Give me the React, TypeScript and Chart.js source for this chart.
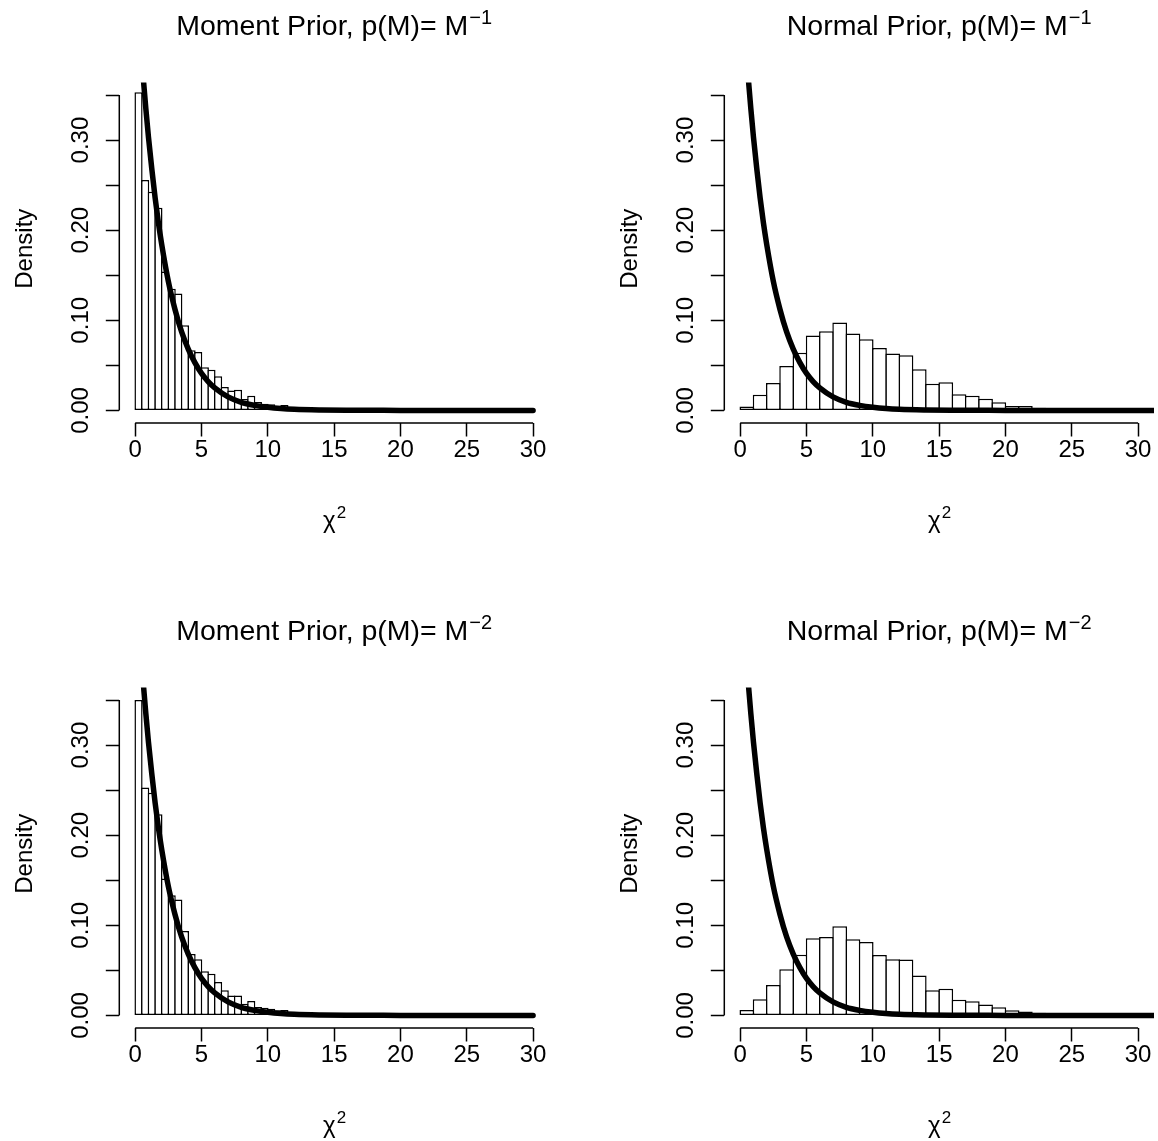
import React, { useEffect, useRef } from "react";
import { Chart, registerables } from "chart.js";

Chart.register(...registerables);

const FONT = "'Liberation Sans', Arial, Helvetica, sans-serif";

// ---- tick definitions ----
const xTickValues = [0, 5, 10, 15, 20, 25, 30];
const xTickLabels = ["0", "5", "10", "15", "20", "25", "30"];
const yTickValues = [0, 0.05, 0.1, 0.15, 0.2, 0.25, 0.3, 0.35];
const yTickLabels = ["0.00", "", "0.10", "", "0.20", "", "0.30", ""];

// ---- histogram data (densities per bin, bins start at 0) ----
const momentBinWidth = 0.5;
const normalBinWidth = 1;

const momentM1Density = [
  0.353, 0.2556, 0.2426, 0.2248, 0.154, 0.135, 0.1296, 0.0944, 0.0667, 0.0648,
  0.048, 0.045, 0.0378, 0.0259, 0.0222, 0.023, 0.0125, 0.0163, 0.0093, 0.0074,
  0.0067, 0.0045, 0.006, 0.0022, 0.0012, 0.0008,
];

const momentM2Density = [
  0.35, 0.253, 0.247, 0.2233, 0.152, 0.1333, 0.1285, 0.0937, 0.068, 0.0624,
  0.0489, 0.0463, 0.037, 0.0278, 0.0222, 0.0222, 0.013, 0.016, 0.0093, 0.0085,
  0.0075, 0.0056, 0.006, 0.002, 0.0012, 0.0008,
];

const normalM1Density = [
  0.0044, 0.0174, 0.0304, 0.0493, 0.0641, 0.083, 0.0878, 0.0974, 0.0852, 0.0789,
  0.0693, 0.063, 0.0611, 0.0456, 0.0296, 0.0311, 0.0178, 0.0163, 0.013, 0.0089,
  0.0048, 0.0048, 0.003, 0.0025, 0.002, 0.0015, 0.001, 0.0008, 0.0005, 0.0003,
];

const normalM2Density = [
  0.0059, 0.0178, 0.0337, 0.0511, 0.0674, 0.0856, 0.087, 0.0989, 0.0844, 0.0815,
  0.067, 0.0622, 0.0619, 0.0444, 0.0278, 0.0296, 0.0174, 0.0156, 0.0122, 0.0089,
  0.0056, 0.0044, 0.003, 0.0025, 0.002, 0.0015, 0.001, 0.0008, 0.0005, 0.0003,
];

// ---- reference density curve ----
const curveX = [
  0.45, 0.6, 0.8, 1, 1.25, 1.5, 1.75, 2, 2.5, 3, 3.5, 4, 4.5, 5, 5.5, 6, 7, 8, 9,
  10, 11, 12, 14, 16, 18, 20, 25, 30,
];
const curveY = [
  0.399, 0.37, 0.335, 0.303, 0.268, 0.236, 0.208, 0.184, 0.143, 0.112, 0.087,
  0.068, 0.053, 0.041, 0.032, 0.025, 0.015, 0.009, 0.0056, 0.0034, 0.002, 0.0012,
  0.0005, 0.0002, 0.0001, 0, 0, 0,
];
const curveTailX = [31.2];
const curveTailY = [0];

type PanelCfg = {
  title: string;
  sup: string;
  binWidth: number;
  density: number[];
  extendCurve: boolean;
  barPct: number;
  left: number;
  top: number;
};

const panels: PanelCfg[] = [
  { title: "Moment Prior, p(M)= M", sup: "\u22121", binWidth: momentBinWidth, density: momentM1Density, extendCurve: false, barPct: 1.23, left: 0, top: 0 },
  { title: "Normal Prior, p(M)= M", sup: "\u22121", binWidth: normalBinWidth, density: normalM1Density, extendCurve: true, barPct: 1.11, left: 605, top: 0 },
  { title: "Moment Prior, p(M)= M", sup: "\u22122", binWidth: momentBinWidth, density: momentM2Density, extendCurve: false, barPct: 1.23, left: 0, top: 605 },
  { title: "Normal Prior, p(M)= M", sup: "\u22122", binWidth: normalBinWidth, density: normalM2Density, extendCurve: true, barPct: 1.11, left: 605, top: 605 },
];

function makeTextPlugin(cfg: PanelCfg) {
  return {
    id: "rstyle",
    afterDraw(chart: any) {
      const { ctx, chartArea: ca, scales } = chart;
      const xs = scales.x;
      const ys = scales.y;
      ctx.save();
      ctx.strokeStyle = "#000";
      ctx.fillStyle = "#000";
      ctx.lineWidth = 1.5;
      // axis lines spanning the tick range (R style)
      ctx.beginPath();
      ctx.moveTo(xs.getPixelForValue(xTickValues[0]), ca.bottom);
      ctx.lineTo(xs.getPixelForValue(xTickValues[xTickValues.length - 1]), ca.bottom);
      ctx.moveTo(ca.left, ys.getPixelForValue(yTickValues[0]));
      ctx.lineTo(ca.left, ys.getPixelForValue(yTickValues[yTickValues.length - 1]));
      ctx.stroke();

      const cx = (ca.left + ca.right) / 2;
      const cy = (ca.top + ca.bottom) / 2;
      ctx.textAlign = "left";
      ctx.textBaseline = "alphabetic";

      // title with superscript
      ctx.font = `28.5px ${FONT}`;
      const w1 = ctx.measureText(cfg.title).width;
      ctx.font = `20px ${FONT}`;
      const w2 = ctx.measureText(cfg.sup).width;
      const x0 = cx - (w1 + w2 + 1) / 2;
      ctx.font = `28.5px ${FONT}`;
      ctx.fillText(cfg.title, x0, 35);
      ctx.font = `20px ${FONT}`;
      ctx.fillText(cfg.sup, x0 + w1 + 1, 24);

      // x axis title chi^2
      ctx.font = `24px ${FONT}`;
      const wc = ctx.measureText("\u03c7").width;
      ctx.font = `17px ${FONT}`;
      const w2b = ctx.measureText("2").width;
      const xc = cx - (wc + w2b) / 2;
      ctx.font = `24px ${FONT}`;
      ctx.fillText("\u03c7", xc, 528);
      ctx.font = `17px ${FONT}`;
      ctx.fillText("2", xc + wc + 1, 518);

      // y axis title
      ctx.font = `24px ${FONT}`;
      ctx.translate(32, cy - 4);
      ctx.rotate(-Math.PI / 2);
      ctx.textAlign = "center";
      ctx.fillText("Density", 0, 0);
      ctx.restore();
    },
  };
}

function Panel({ cfg }: { cfg: PanelCfg }) {
  const ref = useRef<HTMLCanvasElement>(null);
  useEffect(() => {
    const bins = cfg.density.map((d, i) => ({ x: (i + 0.5) * cfg.binWidth, y: d }));
    const cx = cfg.extendCurve ? curveX.concat(curveTailX) : curveX;
    const cyv = cfg.extendCurve ? curveY.concat(curveTailY) : curveY;
    const curve = cx.map((x, i) => ({ x, y: cyv[i] }));
    const chart = new Chart(ref.current as HTMLCanvasElement, {
      type: "bar",
      data: {
        datasets: [
          {
            type: "line",
            data: curve,
            borderColor: "#000",
            borderWidth: 5.5,
            pointRadius: 0,
            cubicInterpolationMode: "monotone",
            borderCapStyle: "round",
            fill: false,
            order: 0,
            clip: 0,
          } as any,
          {
            type: "bar",
            data: bins,
            backgroundColor: "#fff",
            borderColor: "#000",
            borderWidth: 1.5,
            borderSkipped: false,
            categoryPercentage: 1,
            barPercentage: cfg.barPct,
            order: 1,
          } as any,
        ],
      },
      options: {
        animation: false,
        responsive: false,
        maintainAspectRatio: false,
        events: [],
        layout: { padding: { top: 82.4, right: 56, left: 0, bottom: 0 } },
        plugins: {
          legend: { display: false },
          title: { display: false },
          tooltip: { enabled: false },
        },
        scales: {
          x: {
            type: "linear",
            min: -1.2,
            max: 31.2,
            offset: false,
            border: { display: false },
            grid: {
              display: true,
              offset: false,
              drawOnChartArea: false,
              drawTicks: true,
              tickLength: 13.5,
              tickWidth: 1.5,
              tickColor: "#000",
            },
            ticks: {
              autoSkip: false,
              maxRotation: 0,
              minRotation: 0,
              padding: -1,
              color: "#000",
              font: { family: FONT, size: 24 },
              callback: (v: any) => {
                const i = xTickValues.indexOf(Number(v));
                return i >= 0 ? xTickLabels[i] : "";
              },
            },
            afterBuildTicks: (s: any) => {
              s.ticks = xTickValues.map((v) => ({ value: v }));
            },
            afterFit: (s: any) => {
              s.height = 182;
            },
          },
          y: {
            type: "linear",
            min: -0.014,
            max: 0.364,
            border: { display: false },
            grid: {
              display: true,
              offset: false,
              drawOnChartArea: false,
              drawTicks: true,
              tickLength: 13.5,
              tickWidth: 1.5,
              tickColor: "#000",
            },
            ticks: {
              autoSkip: false,
              minRotation: 90,
              maxRotation: 90,
              crossAlign: "center",
              padding: 1.5,
              color: "#000",
              font: { family: FONT, size: 24 },
              callback: (v: any) => {
                const i = yTickValues.findIndex((t) => Math.abs(t - Number(v)) < 1e-9);
                return i >= 0 ? yTickLabels[i] : "";
              },
            },
            afterBuildTicks: (s: any) => {
              s.ticks = yTickValues.map((v) => ({ value: v }));
            },
            afterFit: (s: any) => {
              s.width = 119.3;
            },
          },
        },
      } as any,
      plugins: [makeTextPlugin(cfg)],
    });
    return () => chart.destroy();
  }, [cfg]);
  return (
    <canvas
      ref={ref}
      width={605}
      height={605}
      style={{ position: "absolute", left: cfg.left, top: cfg.top, width: 605, height: 605 }}
    />
  );
}

export default function App() {
  useEffect(() => {
    document.body.style.margin = "0";
  }, []);
  return (
    <div style={{ position: "relative", width: 1158, height: 1141, overflow: "hidden", background: "#fff" }}>
      {panels.map((p, i) => (
        <Panel key={i} cfg={p} />
      ))}
    </div>
  );
}
